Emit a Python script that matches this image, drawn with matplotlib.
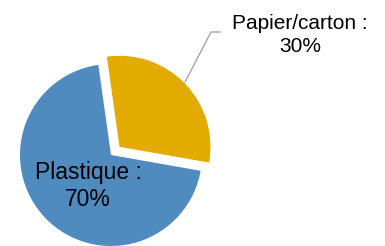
import matplotlib
matplotlib.use('Agg')
import matplotlib.pyplot as plt

# Data
categories = ['Plastique', 'Papier/carton']
values = [70, 30]
colors = ['#4F8BBF', '#E3AB00']
explode = [0, 0.13]

plt.rcParams['font.family'] = ['Liberation Sans', 'DejaVu Sans']

fig = plt.figure(figsize=(3.85, 2.46), dpi=100)
ax = fig.add_axes([0, 0, 1, 1])

# pie centre at (111, 155) px, radius 91 px
r = 91.0

wedges, _ = ax.pie(values, colors=colors, explode=explode, startangle=98,
                   counterclock=True, radius=1, center=(0, 0), frame=True,
                   wedgeprops=dict(linewidth=0))
ax.set_xlim(-111 / r, (385 - 111) / r)
ax.set_ylim(-(246 - 155) / r, 155 / r)
ax.set_aspect('auto')
ax.axis('off')


def px(x, y):
    return ((x - 111) / r, (155 - y) / r)


# Plastique label inside slice
ax.text(*px(88, 186), f'{categories[0]} :\n{values[0]}%', ha='center', va='center',
        fontsize=16.5, linespacing=1.22, color='black')

# Papier/carton label with leader line
ax.text(*px(300, 35), f'{categories[1]} :\n{values[1]}%', ha='center', va='center',
        fontsize=15, linespacing=1.25, color='black')
lx, ly = zip(px(220, 32), px(211, 32), px(185, 82))
ax.plot(lx, ly, color='#A6A6A6', linewidth=1)

fig.savefig('out.png', dpi=100)
